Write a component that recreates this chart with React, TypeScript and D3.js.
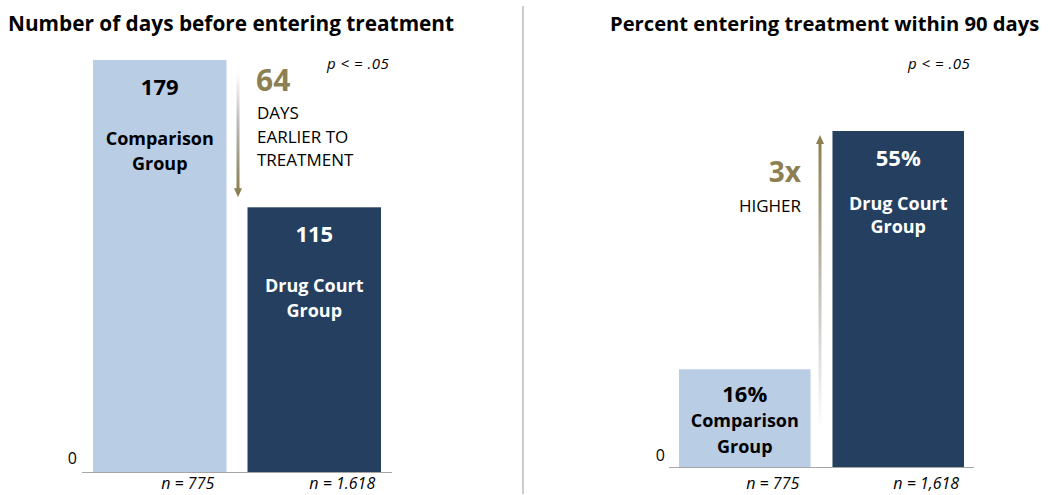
import React from "react";
import * as d3 from "d3";

const groups = ["Comparison Group", "Drug Court Group"];
const groupLines = [["Comparison", "Group"], ["Drug Court", "Group"]];
const daysValues = [179, 115];
const percentValues = [16, 55];
const daysLabels = ["179", "115"];
const percentLabels = ["16%", "55%"];
const nLabelsLeft = ["n = 775", "n = 1.618"];
const nLabelsRight = ["n = 775", "n = 1,618"];
const leftTitle = "Number of days before entering treatment";
const rightTitle = "Percent entering treatment within 90 days";
const pLabel = "p < = .05";
const diffDays = "64";
const diffDaysText = ["DAYS", "EARLIER TO", "TREATMENT"];
const ratioText = "3x";
const ratioSub = "HIGHER";

const LIGHT = "#b9cde5";
const DARK = "#243f60";
const GOLD = "#8c7f52";
const FONT = "'Open Sans', Lato, sans-serif";

export default function App() {
  const W = 1050, H = 495;

  const xL = d3.scaleBand<string>().domain(groups).range([93, 381]).paddingInner(0.136);
  const yL = d3.scaleLinear().domain([0, 179]).range([472, 60]);
  const xR = d3.scaleBand<string>().domain(groups).range([679, 964]).paddingInner(0.143);
  const yR = d3.scaleLinear().domain([0, 55]).range([467, 131]);

  const bw = xL.bandwidth();
  const bwR = xR.bandwidth();

  const leftArrowX = 238;
  const leftArrowTop = yL(daysValues[0]) + 13;
  const leftArrowTip = yL(daysValues[1]) - 10;
  const rightArrowX = 820;
  const rightArrowTip = yR(percentValues[1]) + 4;
  const rightArrowBottom = yR(percentValues[0]) + 60;

  return (
    <svg width={W} height={H} style={{ position: "absolute", left: 0, top: 0, display: "block" }} fontFamily={FONT}>
      <defs>
        <linearGradient id="gDown" x1="0" y1="0" x2="0" y2="1">
          <stop offset="0" stopColor="#ffffff" />
          <stop offset="0.45" stopColor="#b8b8b8" />
          <stop offset="1" stopColor={GOLD} />
        </linearGradient>
        <linearGradient id="gUp" x1="0" y1="1" x2="0" y2="0">
          <stop offset="0" stopColor="#ffffff" />
          <stop offset="0.45" stopColor="#c8c6c0" />
          <stop offset="1" stopColor={GOLD} />
        </linearGradient>
      </defs>
      <rect width={W} height={H} fill="#fff" />

      <line x1={523} x2={523} y1={6} y2={494} stroke="#bdbdbd" strokeWidth={1.5} />

      {/* LEFT CHART */}
      <text x={8} y={31} fontSize={20.8} fontWeight={700} fill="#000">{leftTitle}</text>
      <text x={327} y={69} fontSize={15} fontStyle="italic" fill="#000" letterSpacing={0.5}>{pLabel}</text>
      {groups.map((g, i) => (
        <rect key={g} x={xL(g)} y={yL(daysValues[i])} width={bw} height={yL(0) - yL(daysValues[i])} fill={i === 0 ? LIGHT : DARK} />
      ))}
      <line x1={82} x2={392} y1={yL(0) + 0.5} y2={yL(0) + 0.5} stroke="#a6a6a6" strokeWidth={1.2} />
      <text x={77} y={yL(0) - 8} fontSize={16} textAnchor="end" fill="#000">0</text>
      {groups.map((g, i) => {
        const cx = (xL(g) as number) + bw / 2;
        const top = yL(daysValues[i]);
        const fill = i === 0 ? "#000" : "#fff";
        return (
          <g key={g} fill={fill} fontWeight={700} textAnchor="middle">
            <text x={cx} y={top + 35} fontSize={22}>{daysLabels[i]}</text>
            <text x={cx} y={top + 85} fontSize={18}>{groupLines[i][0]}</text>
            <text x={cx} y={top + 110} fontSize={18}>{groupLines[i][1]}</text>
          </g>
        );
      })}
      {groups.map((g, i) => (
        <text key={g} x={(xL(g) as number) + bw / 2 + 28} y={489} fontSize={16} fontStyle="italic" textAnchor="middle" fill="#000">{nLabelsLeft[i]}</text>
      ))}
      <rect x={leftArrowX - 1.5} y={leftArrowTop} width={3} height={leftArrowTip - leftArrowTop - 8} fill="url(#gDown)" />
      <path d={`M${leftArrowX - 4},${leftArrowTip - 9} L${leftArrowX + 4},${leftArrowTip - 9} L${leftArrowX},${leftArrowTip} Z`} fill={GOLD} />
      <text x={256} y={91} fontSize={30} fontWeight={700} fill={GOLD}>{diffDays}</text>
      {diffDaysText.map((t, i) => (
        <text key={t} x={257} y={119 + i * 23.5} fontSize={17} fill="#000">{t}</text>
      ))}

      {/* RIGHT CHART */}
      <text x={610} y={31} fontSize={20.2} fontWeight={700} fill="#000">{rightTitle}</text>
      <text x={908} y={69} fontSize={15} fontStyle="italic" fill="#000" letterSpacing={0.5}>{pLabel}</text>
      {groups.map((g, i) => (
        <rect key={g} x={xR(g)} y={yR(percentValues[i])} width={bwR} height={yR(0) - yR(percentValues[i])} fill={i === 0 ? LIGHT : DARK} />
      ))}
      <line x1={669} x2={974} y1={yR(0) + 0.5} y2={yR(0) + 0.5} stroke="#a6a6a6" strokeWidth={1.2} />
      <text x={665} y={yR(0) - 6} fontSize={16} textAnchor="end" fill="#000">0</text>
      {groups.map((g, i) => {
        const cx = (xR(g) as number) + bwR / 2;
        const top = yR(percentValues[i]);
        const fill = i === 0 ? "#000" : "#fff";
        const off = i === 0 ? [33, 58, 84] : [35, 79, 102];
        return (
          <g key={g} fill={fill} fontWeight={700} textAnchor="middle">
            <text x={cx} y={top + off[0]} fontSize={22}>{percentLabels[i]}</text>
            <text x={cx} y={top + off[1]} fontSize={18}>{groupLines[i][0]}</text>
            <text x={cx} y={top + off[2]} fontSize={18}>{groupLines[i][1]}</text>
          </g>
        );
      })}
      {groups.map((g, i) => (
        <text key={g} x={(xR(g) as number) + bwR / 2 + 28} y={489} fontSize={16} fontStyle="italic" textAnchor="middle" fill="#000">{nLabelsRight[i]}</text>
      ))}
      <rect x={rightArrowX - 1.5} y={rightArrowTip + 8} width={3} height={rightArrowBottom - rightArrowTip - 8} fill="url(#gUp)" />
      <path d={`M${rightArrowX - 4},${rightArrowTip + 9} L${rightArrowX + 4},${rightArrowTip + 9} L${rightArrowX},${rightArrowTip} Z`} fill={GOLD} />
      <text x={801} y={182} fontSize={28} fontWeight={700} textAnchor="end" fill={GOLD}>{ratioText}</text>
      <text x={801} y={212} fontSize={17} textAnchor="end" fill="#000">{ratioSub}</text>
    </svg>
  );
}
